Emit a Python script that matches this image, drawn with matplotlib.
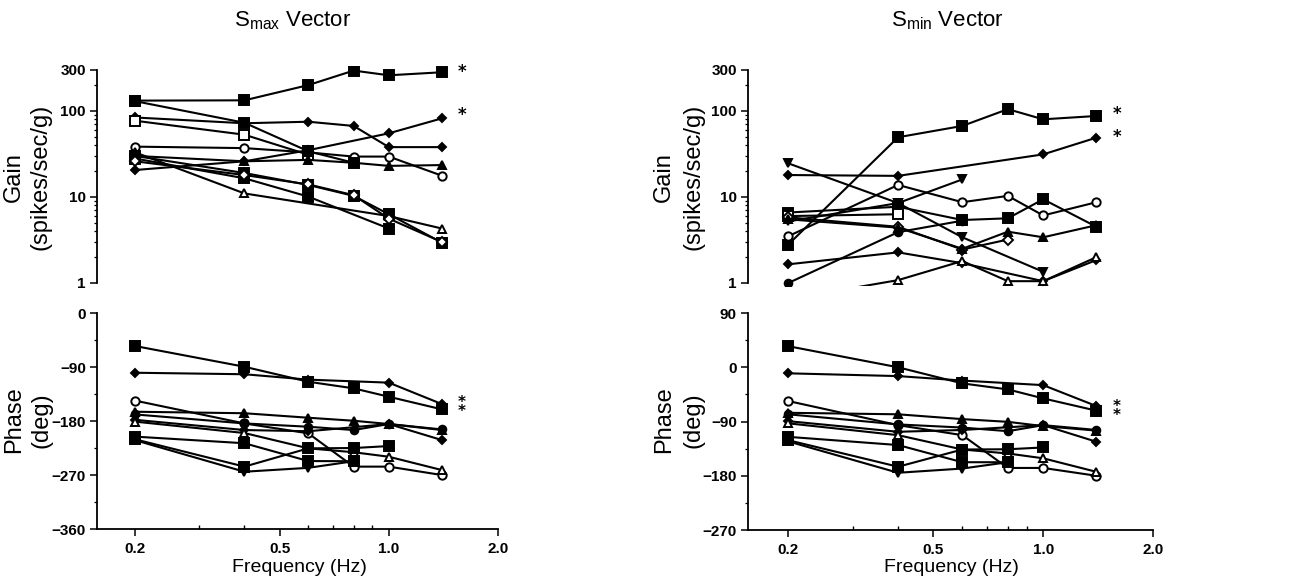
import numpy as np
import matplotlib.pyplot as plt

plt.rcParams['font.family'] = ['Liberation Sans', 'DejaVu Sans']
plt.rcParams['mathtext.fontset'] = 'custom'
plt.rcParams['mathtext.rm'] = 'Liberation Sans'

# stimulus frequencies (Hz)
freqs = [0.2, 0.4, 0.6, 0.8, 1.0, 1.4]
nan = np.nan

# Smax vector gain (spikes/sec/g)
gmax_1 = [132, 133, 200, 295, 260, 282]
gmax_2 = [84, 72, 75, 67, 38, 38]
gmax_3 = [77, 53, 31, nan, nan, nan]
gmax_4 = [38.5, 37, 33, 29.5, 29.5, 17.7]
gmax_5 = [20.6, 26, 35, nan, 55, 82]
gmax_6 = [30, 26, 27, 25, 23, 23.5]
gmax_7 = [33, 11, nan, nan, 6.0, 4.3]
gmax_8 = [30, 19, 13.8, 10.3, 6.3, 2.95]
gmax_9 = [28, 16.5, 10.1, nan, 4.3, nan]
gmax_10 = [26, 18, 14, 10.5, 5.6, 3.0]
gmax_11 = [130, 73, 34, 25, nan, nan]

# Smax vector phase (deg)
pmax_1 = [-55, -89.5, -114.5, -125.5, -139.5, -160.5]
pmax_2 = [-99.5, -102, -111, nan, -116, -151.7]
pmax_3 = [-146, -184, -200.5, -256, -256, -270]
pmax_4 = [-164.5, -167, -174.5, -179.5, -185, -195]
pmax_5 = [-169, -184, -189.5, -195, -185, -194]
pmax_6 = [-178, -195, -197, nan, -185, -211.7]
pmax_7 = [-181, -200, -225.5, -232, -239.5, -261.7]
pmax_8 = [-206, -217, -246.7, -247, nan, nan]
pmax_9 = [-210.5, -256, -225.5, -225, -221.7, nan]
pmax_10 = [-212, -264.5, -258, -247, nan, nan]

# Smin vector gain (spikes/sec/g)
gmin_1 = [2.8, 49.5, 67, 105, 80, 87.5]
gmin_2 = [18, 17.6, nan, nan, 31.3, 49]
gmin_3 = [24.6, 8.5, 3.4, nan, 1.35, nan]
gmin_4 = [3.5, 13.8, 8.7, 10.3, 6.1, 8.7]
gmin_5 = [6.6, 7.7, 5.4, 5.65, 9.4, 4.5]
gmin_6 = [6.0, 6.3, nan, nan, nan, nan]
gmin_7 = [5.2, 8.5, 16, nan, nan, nan]
gmin_8 = [5.8, 4.5, 2.45, 3.2, nan, nan]
gmin_9 = [5.5, 4.4, 2.5, 3.95, 3.4, 4.7]
gmin_10 = [1.65, 2.27, 1.7, nan, 1.05, 1.85]
gmin_11 = [1.0, 3.9, 5.3, nan, nan, nan]
gmin_12 = [0.65, 1.08, 1.8, 1.05, 1.05, 2.0]

# Smin vector phase (deg)
pmin_1 = [35, 0, -26.7, -36.7, -51.6, -72]
pmin_2 = [-10, -14.6, -22, nan, -29.6, -64.4]
pmin_3 = [-56, -96, -112.6, -167, -167, -180]
pmin_4 = [-75.5, -78, -86, -90.5, -97.6, -105]
pmin_5 = [-78, -94.8, -100, -106, -96, -104]
pmin_6 = [-89.4, -107, -104, nan, -96, -123.6]
pmin_7 = [-93, -112.6, -136.4, -143, -151, -173.5]
pmin_8 = [-115.4, -129, -157.5, -157.5, nan, nan]
pmin_9 = [-121, -165, -136.4, -136, -133, nan]
pmin_10 = [-123, -175, -168, -157.5, nan, nan]

# marker styles (marker, filled, size)
S = ('s', True, 6.5)
So = ('s', False, 6.5)
D = ('D', True, 4.5)
Do = ('D', False, 5)
C = ('o', True, 5.5)
Co = ('o', False, 6)
T = ('^', True, 6)
To = ('^', False, 6)
V = ('v', True, 6)

gain_max = [(gmax_1, S), (gmax_2, D), (gmax_3, So), (gmax_4, Co), (gmax_5, D), (gmax_6, T),
            (gmax_7, To), (gmax_8, S), (gmax_9, S), (gmax_10, Do), (gmax_11, S)]
phase_max = [(pmax_1, S), (pmax_2, D), (pmax_3, Co), (pmax_4, T), (pmax_5, C), (pmax_6, D),
             (pmax_7, To), (pmax_8, S), (pmax_9, S), (pmax_10, V)]
gain_min = [(gmin_1, S), (gmin_2, D), (gmin_3, V), (gmin_4, Co), (gmin_5, S), (gmin_6, So),
            (gmin_7, V), (gmin_8, Do), (gmin_9, T), (gmin_10, D), (gmin_11, C), (gmin_12, To)]
phase_min = [(pmin_1, S), (pmin_2, D), (pmin_3, Co), (pmin_4, T), (pmin_5, C), (pmin_6, D),
             (pmin_7, To), (pmin_8, S), (pmin_9, S), (pmin_10, V)]


def draw(ax, series):
    f = np.array(freqs)
    for vals, (m, filled, ms) in series:
        v = np.array(vals, dtype=float)
        ok = ~np.isnan(v)
        ax.plot(f[ok], v[ok], color='black', lw=1.5, marker=m, ms=ms,
                mfc='black' if filled else 'white', mec='black', mew=1.4)


def style_x(ax, xmin):
    ax.set_xscale('log')
    ax.set_xlim(xmin, 2.0)
    ax.set_xticks([0.2, 0.5, 1.0, 2.0])
    ax.set_xticklabels(['0.2', '0.5', '1.0', '2.0'])
    ax.set_xticks([0.3, 0.4, 0.6, 0.7, 0.8, 0.9], minor=True)
    ax.xaxis.set_minor_formatter(plt.NullFormatter())
    ax.tick_params(axis='x', which='major', direction='out', length=5, width=1.1, pad=4)
    ax.tick_params(axis='x', which='minor', direction='in', length=3, width=1)


def clean(ax):
    for s in ['top', 'right']:
        ax.spines[s].set_visible(False)
    for s in ['left', 'bottom']:
        ax.spines[s].set_linewidth(1.3)
    for lab in ax.get_xticklabels() + ax.get_yticklabels():
        lab.set_fontweight('bold')
        lab.set_fontsize(11)


fig = plt.figure(figsize=(12.92, 5.88), dpi=100)

cols = [
    dict(x0=0.0751, w=0.3104, xmin=0.157, gain=gain_max, phase=phase_max,
         pyl=(-360, 0), pticks=[-360, -270, -180, -90, 0], pb=0.1003, ph=0.3673,
         gstar=[285, 90], pstar=-156, title=r'S$_{\mathrm{max}}$ Vector', tx=0.2268),
    dict(x0=0.5789, w=0.3135, xmin=0.155, gain=gain_min, phase=phase_min,
         pyl=(-270, 90), pticks=[-270, -180, -90, 0, 90], pb=0.0986, ph=0.369,
         gstar=[92, 50], pstar=-72, title=r'S$_{\mathrm{min}}$ Vector', tx=0.733),
]

for c in cols:
    # gain panel
    ag = fig.add_axes([c['x0'], 0.5141, c['w'], 0.3730])
    draw(ag, c['gain'])
    ag.set_yscale('log')
    ag.set_ylim(0.93, 330)
    ag.set_xscale('log')
    ag.set_xlim(c['xmin'], 2.0)
    ag.spines['bottom'].set_visible(False)
    ag.spines['left'].set_bounds(1, 300)
    ag.set_xticks([])
    ag.set_xticks([], minor=True)
    ag.set_yticks([1, 10, 100, 300])
    ag.set_yticklabels(['1', '10', '100', '300'])
    minors = [k * d for d in (1, 10, 100) for k in range(2, 10) if k * d < 300]
    ag.set_yticks(minors, minor=True)
    ag.yaxis.set_minor_formatter(plt.NullFormatter())
    ag.tick_params(axis='y', which='major', direction='out', length=5, width=1.1, pad=3)
    ag.tick_params(axis='y', which='minor', direction='out', length=2.5, width=0.9)
    clean(ag)
    for y in c['gstar']:
        ag.text(1.59, y, '*', ha='center', va='center', fontsize=12, fontweight='bold',
                fontfamily='DejaVu Sans', clip_on=False)

    # phase panel
    ap = fig.add_axes([c['x0'], c['pb'], c['w'], c['ph']])
    draw(ap, c['phase'])
    style_x(ap, c['xmin'])
    ap.set_ylim(*c['pyl'])
    ap.set_yticks(c['pticks'])
    ap.set_yticklabels([str(t).replace('-', '\u2212') for t in c['pticks']])
    ap.set_yticks(np.arange(c['pyl'][0] + 45, c['pyl'][1], 90), minor=True)
    ap.yaxis.set_minor_formatter(plt.NullFormatter())
    ap.tick_params(axis='y', which='major', direction='out', length=5, width=1.1, pad=3)
    ap.tick_params(axis='y', which='minor', direction='out', length=2.5, width=0.9)
    clean(ap)
    ap.text(1.59, c['pstar'], '*\n*', ha='center', va='center', fontsize=11,
            fontweight='bold', fontfamily='DejaVu Sans', linespacing=0.5, clip_on=False)

    fig.text(c['tx'], 0.965, c['title'], ha='center', va='center', fontsize=16)

# axis labels
for xa, xb in [(14, 41), (664, 694)]:
    fig.text(xa / 1292, 0.699, 'Gain', rotation=90, ha='center', va='center', fontsize=17)
    fig.text(xb / 1292, 0.699, '(spikes/sec/g)', rotation=90, ha='center', va='center', fontsize=17)
    fig.text(xa / 1292, 0.286, 'Phase', rotation=90, ha='center', va='center', fontsize=17)
    fig.text(xb / 1292, 0.286, '(deg)', rotation=90, ha='center', va='center', fontsize=17)

for xc in (299, 951):
    fig.text(xc / 1292, 1 - 568 / 588, 'Frequency (Hz)', ha='center', va='center', fontsize=14)

fig.savefig('out.png', dpi=100)
